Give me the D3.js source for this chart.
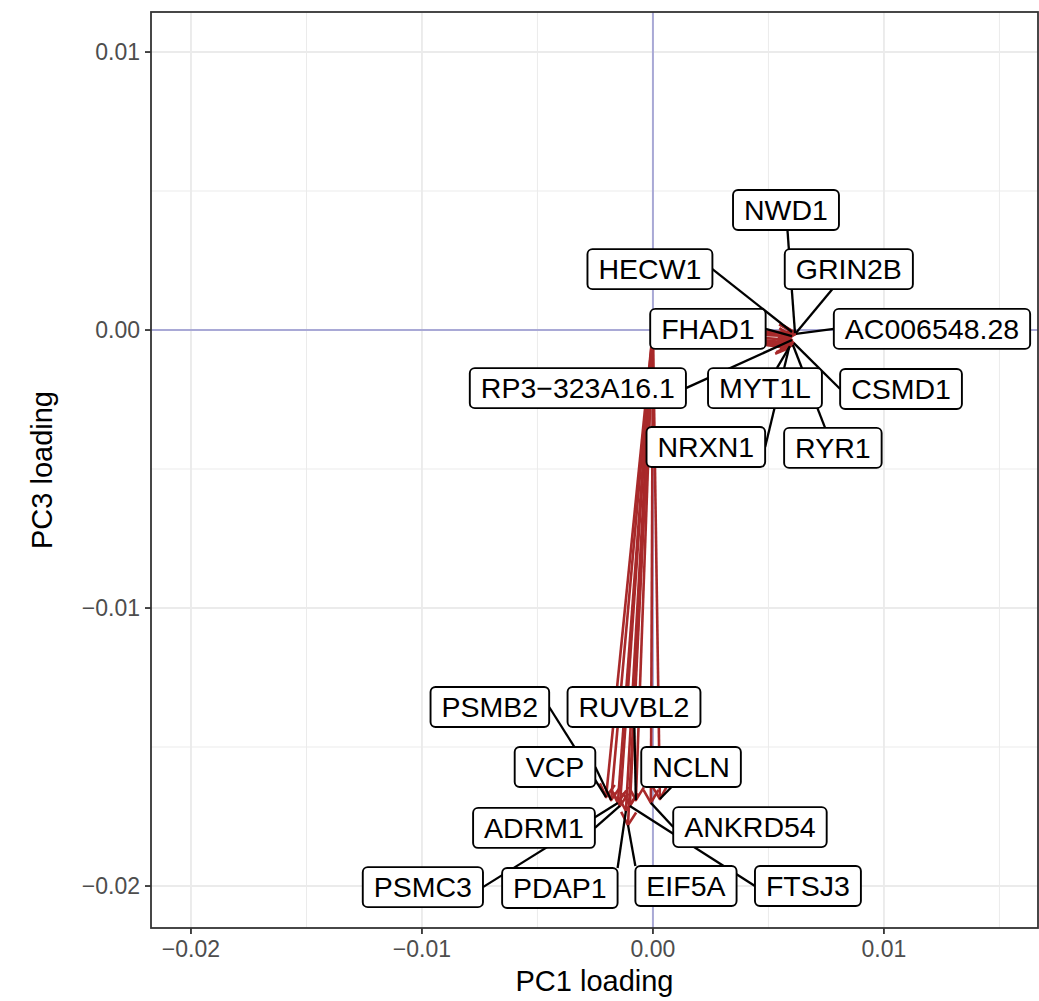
<!DOCTYPE html>
<html><head><meta charset="utf-8">
<script src="https://cdn.jsdelivr.net/npm/d3@7"></script>
<style>
body{margin:0;background:#fff}
text{font-family:"Liberation Sans",Arial,Helvetica,sans-serif}
</style>
</head><body>
<svg id="chart" width="1039" height="1001"></svg>
<script>
// ---- data ----
const genes = ["NWD1","HECW1","GRIN2B","AC006548.28","FHAD1","RP3\u2212323A16.1","MYT1L","CSMD1","NRXN1","RYR1",
               "PSMB2","RUVBL2","VCP","NCLN","ADRM1","ANKRD54","PSMC3","PDAP1","EIF5A","FTSJ3"];
const pc1Loading = [0.00615,0.00602,0.00619,0.00619,0.00602,0.00602,0.00593,0.00610,0.00589,0.00606,
                    -0.00203,-0.00074,-0.00181,0.00030,-0.00143,-0.00009,-0.00152,-0.00117,-0.00108,-0.00100];
const pc3Loading = [-0.00011,-0.00007,-0.00011,-0.00014,-0.00022,-0.00036,-0.00058,-0.00047,-0.00065,-0.00054,
                    -0.01680,-0.01691,-0.01691,-0.01687,-0.01712,-0.01701,-0.01701,-0.01730,-0.01781,-0.01712];
// repelled label positions (data units)
const labelPC1 = [0.00576,-0.00013,0.00848,0.01208,0.00238,-0.00325,0.00485,0.01074,0.00229,0.00779,
                  -0.00706,-0.00082,-0.00424,0.00165,-0.00515,0.00420,-0.00996,-0.00403,0.00143,0.00671];
const labelPC3 = [0.00432,0.00219,0.00219,0.00004,0.00004,-0.00209,-0.00209,-0.00212,-0.00421,-0.00424,
                  -0.01356,-0.01356,-0.01572,-0.01572,-0.01791,-0.01788,-0.02004,-0.02007,-0.02000,-0.02000];
const xTicks = [-0.02,-0.01,0.00,0.01];
const xTickLabels = ["\u22120.02","\u22120.01","0.00","0.01"];
const yTicks = [-0.02,-0.01,0.00,0.01];
const yTickLabels = ["\u22120.02","\u22120.01","0.00","0.01"];
const xMinor = [-0.015,-0.005,0.005,0.015];
const yMinor = [-0.015,-0.005,0.005];
const xDomain = [-0.02173,0.01667];
const yDomain = [-0.02151,0.01144];
const xTitle = "PC1 loading", yTitle = "PC3 loading";

// ---- layout ----
const P = {left:151, right:1038, top:12, bottom:928};
const svg = d3.select("#chart");
const x = d3.scaleLinear().domain(xDomain).range([P.left,P.right]);
const y = d3.scaleLinear().domain(yDomain).range([P.bottom,P.top]);
const W = P.right-P.left, H = P.bottom-P.top;

svg.append("rect").attr("width",1039).attr("height",1001).attr("fill","#fff");
const g = svg.append("g");
svg.append("clipPath").attr("id","pc").append("rect")
  .attr("x",P.left).attr("y",P.top).attr("width",W).attr("height",H);
const pg = g.append("g").attr("clip-path","url(#pc)");

// minor grid
pg.selectAll(".xm").data(xMinor).enter().append("line")
  .attr("x1",d=>x(d)).attr("x2",d=>x(d)).attr("y1",P.top).attr("y2",P.bottom)
  .attr("stroke","#EBEBEB").attr("stroke-width",1);
pg.selectAll(".ym").data(yMinor).enter().append("line")
  .attr("y1",d=>y(d)).attr("y2",d=>y(d)).attr("x1",P.left).attr("x2",P.right)
  .attr("stroke","#EBEBEB").attr("stroke-width",1);
// major grid
pg.selectAll(".xg").data(xTicks).enter().append("line")
  .attr("x1",d=>x(d)).attr("x2",d=>x(d)).attr("y1",P.top).attr("y2",P.bottom)
  .attr("stroke","#EBEBEB").attr("stroke-width",1.9);
pg.selectAll(".yg").data(yTicks).enter().append("line")
  .attr("y1",d=>y(d)).attr("y2",d=>y(d)).attr("x1",P.left).attr("x2",P.right)
  .attr("stroke","#EBEBEB").attr("stroke-width",1.9);
// zero lines
pg.append("line").attr("x1",x(0)).attr("x2",x(0)).attr("y1",P.top).attr("y2",P.bottom)
  .attr("stroke","#A9A9D6").attr("stroke-width",2);
pg.append("line").attr("y1",y(0)).attr("y2",y(0)).attr("x1",P.left).attr("x2",P.right)
  .attr("stroke","#A9A9D6").attr("stroke-width",2);

// arrows
const data = genes.map((gname,i)=>({name:gname, px:pc1Loading[i], py:pc3Loading[i], lx:labelPC1[i], ly:labelPC3[i]}));
const arrowCol = "#A8292A";
const headLen = 15, headAng = Math.PI/6;
data.forEach(d=>{
  const x0=x(0), y0=y(0), x1=x(d.px), y1=y(d.py);
  const a = Math.atan2(y1-y0, x1-x0);
  pg.append("line").attr("x1",x0).attr("y1",y0).attr("x2",x1).attr("y2",y1)
    .attr("stroke",arrowCol).attr("stroke-width",2.6).attr("stroke-linecap","butt");
  const p1=[x1-headLen*Math.cos(a-headAng), y1-headLen*Math.sin(a-headAng)];
  const p2=[x1-headLen*Math.cos(a+headAng), y1-headLen*Math.sin(a+headAng)];
  pg.append("path").attr("d",`M${p1[0]},${p1[1]}L${x1},${y1}L${p2[0]},${p2[1]}`)
    .attr("fill","none").attr("stroke",arrowCol).attr("stroke-width",2.6)
    .attr("stroke-linejoin","round").attr("stroke-linecap","butt");
});

// labels: measure
const FS = 28.5, padX = 11, boxH = 40;
const meas = svg.append("text").attr("font-size",FS).attr("visibility","hidden");
data.forEach(d=>{ meas.text(d.name); d.tw = meas.node().getComputedTextLength(); });
meas.remove();
data.forEach(d=>{
  d.cx = x(d.lx); d.cy = y(d.ly);
  d.w = d.tw + 2*padX; d.h = boxH;
  d.x0 = d.cx - d.w/2; d.x1 = d.cx + d.w/2; d.y0 = d.cy - d.h/2; d.y1 = d.cy + d.h/2;
  d.ptx = x(d.px); d.pty = y(d.py);
});
// segments from label box to point
data.forEach(d=>{
  const ox = d.ptx < d.x0 ? d.x0 - d.ptx : (d.ptx > d.x1 ? d.ptx - d.x1 : 0);
  const oy = d.pty < d.y0 ? d.y0 - d.pty : (d.pty > d.y1 ? d.pty - d.y1 : 0);
  if (ox===0 && oy===0) return;
  let sx, sy;
  if (ox === 0) {
    // point above/below: line toward centre, clipped at top/bottom edge
    sy = d.pty < d.y0 ? d.y0 : d.y1;
    sx = d.cx + (d.ptx - d.cx) * (sy - d.cy) / (d.pty - d.cy);
  } else if (oy > 3.5*ox) {
    sy = d.pty < d.y0 ? d.y0 : d.y1;
    sx = Math.max(d.x0, Math.min(d.x1, d.ptx));
  } else {
    sx = d.ptx < d.x0 ? d.x0 : d.x1;
    sy = d.cy;
  }
  const len = Math.hypot(d.ptx-sx, d.pty-sy);
  if (len < 14) return;
  g.append("line").attr("x1",sx).attr("y1",sy).attr("x2",d.ptx).attr("y2",d.pty)
    .attr("stroke","#000").attr("stroke-width",2.3);
});
// boxes + text
data.forEach(d=>{
  g.append("rect").attr("x",d.x0).attr("y",d.y0).attr("width",d.w).attr("height",d.h)
    .attr("rx",5).attr("ry",5).attr("fill","#fff").attr("stroke","#000").attr("stroke-width",1.9);
  g.append("text").attr("x",d.cx).attr("y",d.cy + FS*0.36).attr("text-anchor","middle")
    .attr("font-size",FS).attr("fill","#000").text(d.name);
});

// panel border
g.append("rect").attr("x",P.left).attr("y",P.top).attr("width",W).attr("height",H)
  .attr("fill","none").attr("stroke","#333333").attr("stroke-width",1.8);

// axes ticks
const TF = 23;
xTicks.forEach((t,i)=>{
  g.append("line").attr("x1",x(t)).attr("x2",x(t)).attr("y1",P.bottom).attr("y2",P.bottom+6)
    .attr("stroke","#333").attr("stroke-width",1.8);
  g.append("text").attr("x",x(t)).attr("y",P.bottom+29).attr("text-anchor","middle")
    .attr("font-size",TF).attr("fill","#4D4D4D").text(xTickLabels[i]);
});
yTicks.forEach((t,i)=>{
  g.append("line").attr("x1",P.left-6).attr("x2",P.left).attr("y1",y(t)).attr("y2",y(t))
    .attr("stroke","#333").attr("stroke-width",1.8);
  g.append("text").attr("x",P.left-11).attr("y",y(t)+TF*0.36).attr("text-anchor","end")
    .attr("font-size",TF).attr("fill","#4D4D4D").text(yTickLabels[i]);
});
// titles
g.append("text").attr("x",(P.left+P.right)/2).attr("y",991).attr("text-anchor","middle")
  .attr("font-size",29).attr("fill","#000").text(xTitle);
g.append("text").attr("transform",`translate(52,${(P.top+P.bottom)/2}) rotate(-90)`)
  .attr("text-anchor","middle").attr("font-size",29).attr("fill","#000").text(yTitle);
</script>
</body></html>
